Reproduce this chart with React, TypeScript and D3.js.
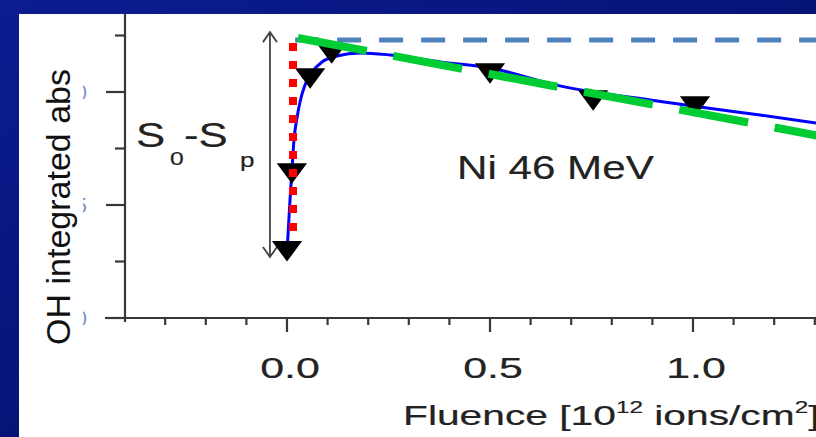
import React from "react";
import * as d3 from "d3";

const W = 816;
const H = 437;

// Fluence (10^12 ions/cm^2) and OH integrated absorbance (hidden labels 0, 5, 10)
const pointFluence = [0.0, 0.012, 0.057, 0.11, 0.5, 0.754, 1.005];
const pointAbs = [3.1, 6.55, 10.75, 11.86, 10.97, 9.78, 9.51];

const fitFluence = [0, 0.0025, 0.0074, 0.0123, 0.0172, 0.0246, 0.032, 0.0443, 0.0616, 0.0862, 0.123, 0.18, 0.254, 0.377, 0.5, 0.672, 0.754, 0.894, 1.017, 1.165, 1.303];
const fitAbs = [2.92, 3.67, 5.22, 6.55, 7.88, 8.85, 9.56, 10.31, 10.88, 11.33, 11.59, 11.73, 11.64, 11.33, 11.06, 10.27, 10.0, 9.65, 9.34, 8.98, 8.63];

const linFluence = [0.027, 1.31];
const linAbs = [12.39, 8.06];

const s0Fluence = [0.02, 1.35];
const s0Abs = [12.3, 12.3];

const redFluence = [0.0148, 0.0148];
const redAbs = [12.17, 3.5];

const arrowFluence = -0.042;
const arrowAbs = [12.65, 2.7];

const xMajor = [0, 0.5, 1.0];
const xMajorLabels = ["0.0", "0.5", "1.0"];
const xMinor = [-0.3, -0.2, -0.1, 0.1, 0.2, 0.3, 0.4, 0.6, 0.7, 0.8, 0.9, 1.1, 1.2, 1.3];
const yMajor = [0, 5, 10];
const yMajorLabels = ["0", "5", "10"];
const yMinor = [2.5, 7.5, 12.5];

const FONT = "'Liberation Sans', Arial, sans-serif";
const SX = 1.43;

export default function App() {
  const x = d3.scaleLinear().domain([0, 1]).range([287, 693]);
  const y = d3.scaleLinear().domain([0, 5]).range([318, 205]);

  const line = d3.line<[number, number]>().x((d) => x(d[0])).y((d) => y(d[1]));
  const curve = d3
    .line<[number, number]>()
    .x((d) => x(d[0]))
    .y((d) => y(d[1]))
    .curve(d3.curveMonotoneX);

  const fitPts = fitFluence.map((f, i) => [f, fitAbs[i]] as [number, number]);
  const linPts = linFluence.map((f, i) => [f, linAbs[i]] as [number, number]);
  const s0Pts = s0Fluence.map((f, i) => [f, s0Abs[i]] as [number, number]);
  const redPts = redFluence.map((f, i) => [f, redAbs[i]] as [number, number]);
  const tri = d3.symbol().type(d3.symbolTriangle).size(300)();

  const ax = x(arrowFluence);
  const a1 = y(arrowAbs[0]);
  const a2 = y(arrowAbs[1]);

  const axisColor = "#383838";
  const textColor = "#222";
  const tStroke = { stroke: textColor, strokeWidth: 0.2 };

  return (
    <svg width={W} height={H} style={{ position: "absolute", left: 0, top: 0, display: "block" }}>
      <defs>
        <linearGradient id="bg" x1="0" y1="0" x2="1" y2="1">
          <stop offset="0" stopColor="#0b1c90" />
          <stop offset="0.5" stopColor="#061478" />
          <stop offset="1" stopColor="#000848" />
        </linearGradient>
        <clipPath id="plotclip">
          <rect x={19} y={14} width={W - 19} height={H - 14} />
        </clipPath>
      </defs>
      <rect x={0} y={0} width={W} height={H} fill="url(#bg)" />
      <rect x={19} y={14} width={W - 19} height={H - 14} fill="#ffffff" />

      <g clipPath="url(#plotclip)">
        {/* hidden y tick labels (mostly covered) */}
        {yMajor.map((v, i) => (
          <text key={"yl" + i} x={87} y={y(v) + 8} textAnchor="end" fontFamily={FONT} fontSize={22} fill="#7d96c6">
            {yMajorLabels[i]}
          </text>
        ))}
        <rect x={19} y={14} width={64} height={H - 14} fill="#ffffff" />

        {/* axes */}
        <line x1={125} x2={125} y1={14} y2={322} stroke={axisColor} strokeWidth={2.2} />
        <line x1={105} x2={W} y1={y(0)} y2={y(0)} stroke={axisColor} strokeWidth={2.2} />
        {yMajor.map((v, i) => (
          <line key={"ym" + i} x1={106} x2={125} y1={y(v)} y2={y(v)} stroke={axisColor} strokeWidth={2.2} />
        ))}
        {yMinor.map((v, i) => (
          <line key={"yn" + i} x1={115} x2={125} y1={y(v)} y2={y(v)} stroke={axisColor} strokeWidth={2.2} />
        ))}
        {xMajor.map((v, i) => (
          <line key={"xm" + i} x1={x(v)} x2={x(v)} y1={y(0)} y2={y(0) + 14} stroke={axisColor} strokeWidth={2.2} />
        ))}
        {xMinor.map((v, i) => (
          <line key={"xn" + i} x1={x(v)} x2={x(v)} y1={y(0)} y2={y(0) + 7} stroke={axisColor} strokeWidth={2.2} />
        ))}
        {xMajor.map((v, i) => (
          <text
            key={"xl" + i}
            transform={`translate(${x(v) + 3},${378}) scale(1.48,1)`}
            textAnchor="middle"
            fontFamily={FONT}
            fontSize={29}
            fill={textColor}
            {...tStroke}
          >
            {xMajorLabels[i]}
          </text>
        ))}

        {/* x axis title */}
        <text transform={`translate(403,425) scale(${SX},1)`} fontFamily={FONT} fontSize={28.5} fill={textColor} {...tStroke}>
          Fluence [10
          <tspan fontSize={17} dy={-12}>12</tspan>
          <tspan dy={12}> ions/cm</tspan>
          <tspan fontSize={17} dy={-12}>2</tspan>
          <tspan dy={12}>]</tspan>
        </text>

        {/* y axis title */}
        <text
          transform={`translate(70,207) rotate(-90)`}
          textAnchor="middle"
          fontFamily={FONT}
          fontSize={34}
          fill="#111"
        >
          OH integrated abs
        </text>

        {/* double arrow */}
        <line x1={ax} x2={ax} y1={a1} y2={a2} stroke="#444" strokeWidth={1.8} />
        <path d={`M${ax - 7},${a1 + 10} L${ax},${a1} L${ax + 7},${a1 + 10}`} fill="none" stroke="#444" strokeWidth={1.8} />
        <path d={`M${ax - 7},${a2 - 10} L${ax},${a2} L${ax + 7},${a2 - 10}`} fill="none" stroke="#444" strokeWidth={1.8} />

        {/* S0 - Sp label */}
        <g fontFamily={FONT} fill={textColor} {...tStroke}>
          <text transform="translate(136,147) scale(1.25,1)" fontSize={35}>S</text>
          <text transform="translate(170,165) scale(1.3,1)" fontSize={19}>0</text>
          <text transform="translate(184,147) scale(1.25,1)" fontSize={35}>-S</text>
          <text transform="translate(240,167) scale(1.3,1)" fontSize={20}>p</text>
        </g>

        {/* Ni 46 MeV */}
        <text transform={`translate(457,179) scale(1.24,1)`} fontFamily={FONT} fontSize={34} fill={textColor} {...tStroke}>
          Ni 46 MeV
        </text>

        {/* S0 level dashed line */}
        <path d={line(s0Pts) || ""} fill="none" stroke="#4f81bd" strokeWidth={5} strokeDasharray="24 18" />

        {/* fitted curve */}
        <path d={curve(fitPts) || ""} fill="none" stroke="#0000ff" strokeWidth={3} />

        {/* data points */}
        {pointFluence.map((f, i) => (
          <path
            key={"p" + i}
            d={tri || ""}
            transform={`translate(${x(f)},${y(pointAbs[i])}) rotate(180) scale(1.15,0.9)`}
            fill="#000"
          />
        ))}

        {/* red dotted line */}
        <path d={line(redPts) || ""} fill="none" stroke="#ff0000" strokeWidth={8} strokeDasharray="8 10" />

        {/* green linear fit */}
        <path d={line(linPts) || ""} fill="none" stroke="#00cc33" strokeWidth={8} strokeDasharray="70 27" />
      </g>
    </svg>
  );
}
